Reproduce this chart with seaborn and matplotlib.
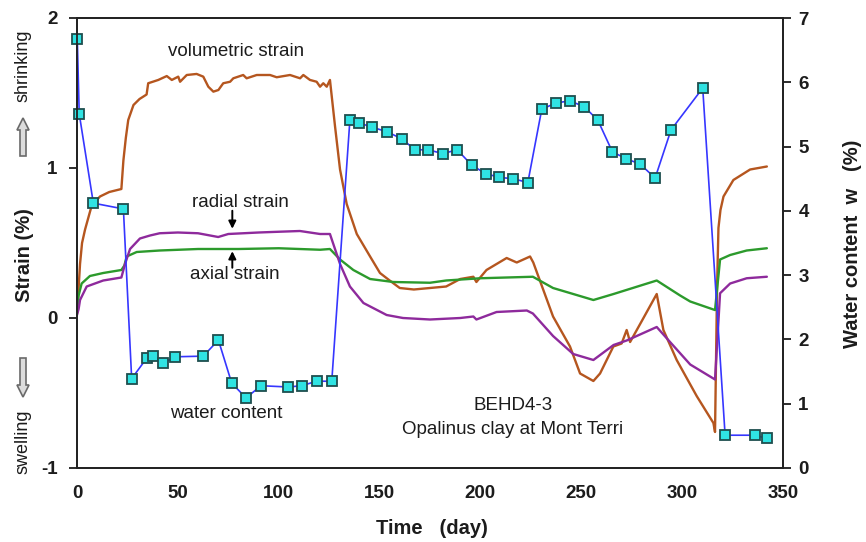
import matplotlib
matplotlib.use("Agg")
import matplotlib.pyplot as plt
from matplotlib.patches import FancyArrow
import seaborn as sns
import pandas as pd

# ---------------- data ----------------
vol_t = [0, 0.8, 1.5, 2.5, 4, 7.3, 11.4, 16, 22, 23, 24.2, 25.4, 28, 31, 34.5, 35.3, 40.3, 44.5, 47.0, 50.2,
         51.1, 54.4, 59.3, 62.6, 65.1, 67.6, 70.1, 72.5, 75.9, 77.5, 82.4, 84.1, 89.1, 95.7, 99.0, 105.6, 110.6,
         112.2, 115.5, 118.8, 120.5, 122.1, 123.8, 125.4, 127.9, 130.4, 133.7, 138.7, 145.3, 150.2, 155, 160,
         167, 175, 183, 190, 196.5, 198, 203, 208, 213, 218, 224.6, 226.2, 236, 244.4, 249.4, 256, 259.3, 265.9,
         270, 272.5, 274.2, 280, 287.4, 290.7, 297.3, 307.2, 315.5, 316.3, 317.3, 318, 319, 320.5, 325.4, 333.7, 342]
vol_s = [0.03, 0.2, 0.36, 0.5, 0.59, 0.75, 0.81, 0.84, 0.86, 1.05, 1.2, 1.32, 1.42, 1.46, 1.49, 1.565, 1.587,
         1.613, 1.587, 1.609, 1.575, 1.62, 1.627, 1.609, 1.542, 1.509, 1.52, 1.565, 1.575, 1.598, 1.62, 1.598,
         1.62, 1.62, 1.605, 1.62, 1.598, 1.62, 1.587, 1.575, 1.542, 1.565, 1.542, 1.587, 1.28, 0.99, 0.76, 0.56,
         0.41, 0.30, 0.25, 0.20, 0.19, 0.20, 0.21, 0.26, 0.275, 0.24, 0.32, 0.36, 0.40, 0.37, 0.41, 0.37, 0.01,
         -0.19, -0.37, -0.42, -0.37, -0.19, -0.17, -0.08, -0.16, -0.02, 0.16, -0.08, -0.28, -0.52, -0.70, -0.76,
         0.2, 0.6, 0.72, 0.81, 0.92, 0.99, 1.01]

rad_t = [0, 0.8, 1.5, 4.8, 13, 22, 23.8, 26.3, 31.2, 36.2, 41, 50, 60, 66, 70, 75, 90, 100, 110.5, 120.5,
         125.4, 130.4, 135.3, 142, 153.5, 161.6, 175, 190, 196.5, 198, 208, 223, 226, 236, 246, 256, 266,
         272.5, 287.4, 294, 304, 316.3, 318.8, 323.8, 332, 342]
rad_s = [0.02, 0.06, 0.12, 0.21, 0.25, 0.27, 0.36, 0.46, 0.53, 0.55, 0.565, 0.57, 0.565, 0.55, 0.54, 0.56,
         0.57, 0.575, 0.58, 0.56, 0.56, 0.36, 0.21, 0.10, 0.02, 0.0, -0.01, 0.0, 0.01, -0.01, 0.04, 0.05, 0.03,
         -0.12, -0.24, -0.28, -0.18, -0.15, -0.06, -0.16, -0.31, -0.41, 0.165, 0.23, 0.265, 0.275]

axl_t = [0, 0.8, 2.3, 6.4, 13, 22, 23.5, 24.6, 29.6, 41, 60, 80, 100, 120.5, 125.4, 130.4, 137, 145.3, 156.8,
         175, 183, 200, 226, 236, 256, 266, 287.4, 299, 304, 316.3, 318.8, 323.8, 332, 342]
axl_s = [0.04, 0.15, 0.23, 0.28, 0.30, 0.32, 0.35, 0.41, 0.44, 0.45, 0.46, 0.46, 0.465, 0.455, 0.46, 0.39,
         0.32, 0.26, 0.24, 0.235, 0.25, 0.265, 0.275, 0.20, 0.12, 0.16, 0.25, 0.15, 0.11, 0.053, 0.39, 0.42,
         0.45, 0.465]

wc_t = [0.15, 1.1, 8.1, 23, 27.1, 34.6, 37.5, 42.8, 48.6, 62.6, 70.1, 76.7, 83.8, 91.2, 104.8, 111.4, 118.8,
        126.3, 135.3, 139.7, 146.4, 153.8, 161.0, 167.6, 174.2, 181.3, 188.5, 195.7, 202.6, 209.4, 216.3,
        223.5, 230.4, 237.5, 244.4, 251.5, 258.2, 265.4, 272.2, 279.1, 286.6, 294.5, 310.2, 321.3, 336.1, 342.0]
wc_w = [6.67, 5.51, 4.12, 4.03, 1.39, 1.71, 1.74, 1.63, 1.73, 1.74, 1.99, 1.32, 1.09, 1.28, 1.26, 1.28, 1.35,
        1.35, 5.42, 5.37, 5.30, 5.23, 5.12, 4.95, 4.95, 4.89, 4.95, 4.71, 4.58, 4.52, 4.50, 4.44, 5.58, 5.68,
        5.71, 5.62, 5.41, 4.92, 4.81, 4.73, 4.51, 5.26, 5.91, 0.51, 0.51, 0.46]

x_ticks = [0, 50, 100, 150, 200, 250, 300, 350]
strain_ticks = [-1, 0, 1, 2]
wc_ticks = [0, 1, 2, 3, 4, 5, 6, 7]

# ---------------- style ----------------
sns.set_style("white")
plt.rcParams["font.family"] = ["Liberation Sans", "DejaVu Sans"]
plt.rcParams["axes.unicode_minus"] = False
TXT = "#1c1c1c"

strain_df = pd.concat([
    pd.DataFrame({"t": vol_t, "s": vol_s, "series": "volumetric"}),
    pd.DataFrame({"t": axl_t, "s": axl_s, "series": "axial"}),
    pd.DataFrame({"t": rad_t, "s": rad_s, "series": "radial"}),
], ignore_index=True)
wc_df = pd.DataFrame({"t": wc_t, "w": wc_w})

palette = {"volumetric": "#B5561F", "axial": "#2C9A2C", "radial": "#8E2A9C"}

fig = plt.figure(figsize=(8.66, 5.42), dpi=100)
ax = fig.add_axes([77 / 866, (542 - 468) / 542, (783 - 77) / 866, (468 - 18) / 542])

sns.lineplot(data=strain_df, x="t", y="s", hue="series", palette=palette, sort=False,
             estimator=None, legend=False, linewidth=1.7, ax=ax)

ax2 = ax.twinx()
sns.lineplot(data=wc_df, x="t", y="w", sort=False, estimator=None, ax=ax2,
             color="#3636FF", linewidth=1.2, marker="s", markersize=7.5,
             markerfacecolor="#2FE3E3", markeredgecolor="#1E4E4E", markeredgewidth=1.3,
             clip_on=False)

ax.set_xlim(0, 350)
ax.set_ylim(-1, 2)
ax2.set_ylim(0, 7)
ax.set_xticks(x_ticks)
ax.set_yticks(strain_ticks)
ax2.set_yticks(wc_ticks)
ax.set_xlabel("")
ax.set_ylabel("")
ax2.set_ylabel("")

for a in (ax, ax2):
    for sp in a.spines.values():
        sp.set_linewidth(1.3)
        sp.set_color("#222222")
ax.tick_params(axis="x", direction="out", length=6, width=1.3, pad=6, labelsize=13.5, colors=TXT)
ax.tick_params(axis="y", direction="out", length=6, width=1.3, pad=8, labelsize=13.5, colors=TXT, left=True)
ax2.tick_params(axis="y", direction="out", length=6, width=1.3, pad=5, labelsize=13.5, colors=TXT, right=True)
for lab in ax.get_xticklabels() + ax.get_yticklabels() + ax2.get_yticklabels():
    lab.set_fontweight("bold")

# axis titles
fig.text(432 / 866, 1 - 528 / 542, "Time   (day)", ha="center", va="center", fontsize=14.5,
         fontweight="bold", color=TXT)
fig.text(24 / 866, 1 - 255 / 542, "Strain (%)", ha="center", va="center", rotation=90,
         fontsize=14.5, fontweight="bold", color=TXT)
fig.text(852 / 866, 1 - 244 / 542, "Water content  w   (%)", ha="center", va="center", rotation=90,
         fontsize=14.5, fontweight="bold", color=TXT)
fig.text(23 / 866, 1 - 66 / 542, "shrinking", ha="center", va="center", rotation=90,
         fontsize=13, color=TXT)
fig.text(23 / 866, 1 - 442 / 542, "swelling", ha="center", va="center", rotation=90,
         fontsize=13, color=TXT)

# hollow direction arrows (figure inches)
def px(xp, yp):
    return xp / 100.0, (542 - yp) / 100.0

x0, y0 = px(23, 156)
fig.patches.append(FancyArrow(x0, y0, 0, 0.38, width=0.06, head_width=0.12, head_length=0.12,
                              length_includes_head=True, transform=fig.dpi_scale_trans,
                              facecolor="#dcdcdc", edgecolor="#6a6a6a", linewidth=1.2))
x1, y1 = px(23, 358)
fig.patches.append(FancyArrow(x1, y1, 0, -0.39, width=0.06, head_width=0.12, head_length=0.12,
                              length_includes_head=True, transform=fig.dpi_scale_trans,
                              facecolor="#dcdcdc", edgecolor="#6a6a6a", linewidth=1.2))

# annotations
ax.text(79, 1.775, "volumetric strain", ha="center", va="center", fontsize=13.5, color=TXT)
ax.text(81, 0.77, "radial strain", ha="center", va="center", fontsize=13.5, color=TXT)
ax.text(78, 0.287, "axial strain", ha="center", va="center", fontsize=13.5, color=TXT)
ax.text(74, -0.635, "water content", ha="center", va="center", fontsize=13.5, color=TXT)
ax.text(216, -0.58, "BEHD4-3", ha="center", va="center", fontsize=13.5, color=TXT)
ax.text(216, -0.74, "Opalinus clay at Mont Terri", ha="center", va="center", fontsize=13.5, color=TXT)

ax.annotate("", xy=(77, 0.595), xytext=(77, 0.715),
            arrowprops=dict(arrowstyle="-|>", color="black", lw=1.4, mutation_scale=11,
                            shrinkA=0, shrinkB=0))
ax.annotate("", xy=(77, 0.445), xytext=(77, 0.335),
            arrowprops=dict(arrowstyle="-|>", color="black", lw=1.4, mutation_scale=11,
                            shrinkA=0, shrinkB=0))

fig.savefig("out.png", dpi=100)
